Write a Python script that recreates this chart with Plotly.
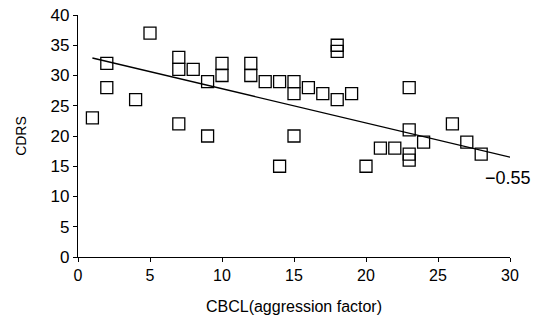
import plotly.graph_objects as go

# CBCL aggression factor (x) vs CDRS (y)
cbcl = [1, 2, 2, 4, 5, 7, 7, 7, 8, 9, 9, 10, 10, 12, 12, 13, 14, 14, 15, 15, 15,
        16, 17, 18, 18, 18, 19, 20, 21, 22, 23, 23, 23, 23, 24, 26, 27, 28]
cdrs = [23, 32, 28, 26, 37, 33, 31, 22, 31, 29, 20, 32, 30, 32, 30, 29, 29, 15, 29, 27, 20,
        28, 27, 26, 35, 34, 27, 15, 18, 18, 28, 21, 17, 16, 19, 22, 19, 17]

# regression line endpoints
fit_x = [1, 30]
fit_y = [32.9, 16.5]
r_label = "\u22120.55"

fig = go.Figure()
fig.add_trace(go.Scatter(x=fit_x, y=fit_y, mode="lines",
                         line=dict(color="black", width=1.4), hoverinfo="skip"))
fig.add_trace(go.Scatter(x=cbcl, y=cdrs, mode="markers",
                         marker=dict(symbol="square-open", size=12,
                                     color="black", line=dict(width=1.3))))
fig.add_annotation(x=28.1, y=13.1, text=r_label, showarrow=False,
                   xanchor="left", yanchor="middle",
                   font=dict(family="Liberation Sans, Arial", size=18, color="black"))

fig.update_layout(
    width=533, height=328,
    margin=dict(l=78, r=23, t=15, b=71),
    paper_bgcolor="white", plot_bgcolor="white",
    showlegend=False,
    font=dict(family="Liberation Sans, Arial", color="black"),
)
fig.update_xaxes(range=[0, 30], tickvals=[0, 5, 10, 15, 20, 25, 30],
                 showgrid=False, zeroline=False, showline=True, linecolor="black",
                 linewidth=1.2, ticks="outside", ticklen=4, tickcolor="black",
                 tickfont=dict(size=16), automargin=False,
                 title=dict(text="CBCL(aggression factor)", font=dict(size=16), standoff=17))
fig.update_yaxes(range=[0, 40], tickvals=[0, 5, 10, 15, 20, 25, 30, 35, 40],
                 showgrid=False, zeroline=False, showline=True, linecolor="black",
                 linewidth=1.2, ticks="outside", ticklen=4, tickcolor="black",
                 tickfont=dict(size=17), automargin=False,
                 title=dict(text="CDRS", font=dict(size=14), standoff=20))

fig.write_html("out.html", config={"displayModeBar": False},
               post_script="document.body.style.margin='0';")
